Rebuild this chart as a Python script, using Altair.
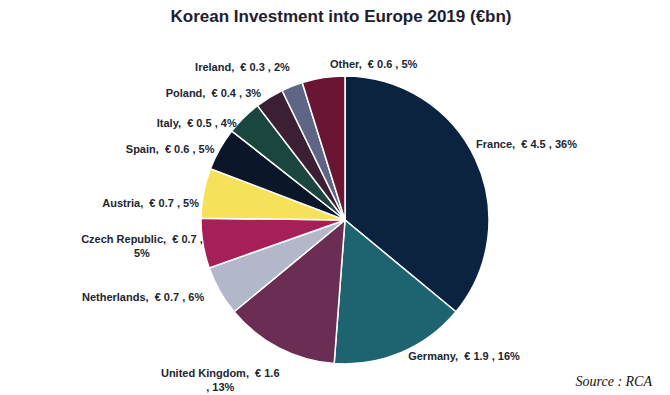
import math
import altair as alt
import pandas as pd

# ---- data ----
COUNTRIES = ["France", "Germany", "United Kingdom", "Netherlands", "Czech Republic",
             "Austria", "Spain", "Italy", "Poland", "Ireland", "Other"]
VALUES = [4.5, 1.9, 1.6, 0.7, 0.7, 0.7, 0.6, 0.5, 0.4, 0.3, 0.6]
SHARES = [36, 16, 13, 6, 5, 5, 5, 4, 3, 2, 5]
COLORS = ["#0c2340", "#1d6470", "#6b2d54", "#b3b7ca", "#a61f58", "#f6e25a",
          "#0b1628", "#1b4640", "#3d1f33", "#5e6585", "#6b1535"]

TITLE = "Korean Investment into Europe 2019 (€bn)"
SOURCE = "Source : RCA"

# ---- layout ----
CX, CY = 337, 184
PIE_R = 144
FONT = "Liberation Sans"
TEXT_COLOR = "#22252f"
# label placement: (angle nudge from slice middle in degrees, radius in px, alignment)
LABEL_PLACE = {
    "France": (-4.6, 151, "left"),
    "Germany": (-1.7, 151, "left"),
    "United Kingdom": (11.7, 198, "center"),
    "Netherlands": (0.5, 161, "right"),
    "Czech Republic": (3.8, 204, "center"),
    "Austria": (-4.4, 147, "right"),
    "Spain": (-1.4, 148, "right"),
    "Italy": (-3.7, 145, "right"),
    "Poland": (-2.1, 151, "right"),
    "Ireland": (1.7, 162, "right"),
    "Other": (3.1, 156, "left"),
}


def make_label(name, v, s):
    head = f"{name},\u00a0 € {v}"
    tail = f"{s}%"
    if name == "United Kingdom":
        return head + "\n, " + tail
    if name == "Czech Republic":
        return head + " ,\n" + tail
    return head + " , " + tail


total = sum(VALUES)
mids = []
run = 0.0
for v in VALUES:
    mids.append(run + v / 2)
    run += v

df = pd.DataFrame({
    "country": COUNTRIES,
    "value": VALUES,
    "share": SHARES,
    "idx": list(range(len(COUNTRIES))),
    "label": [make_label(c, v, s) for c, v, s in zip(COUNTRIES, VALUES, SHARES)],
})
df["lt"] = [m + LABEL_PLACE[c][0] / 360 * total for m, c in zip(mids, COUNTRIES)]
df["lr"] = [LABEL_PLACE[c][1] for c in COUNTRIES]
df["align"] = [LABEL_PLACE[c][2] for c in COUNTRIES]

theta_scale = alt.Scale(domain=[0, total], range=[0, 2 * math.pi])
base = alt.Chart(df)

arcs = base.mark_arc(radius=PIE_R, stroke="white", strokeWidth=1.5).encode(
    theta=alt.Theta("value:Q", stack=True, scale=theta_scale),
    color=alt.Color("country:N", scale=alt.Scale(domain=COUNTRIES, range=COLORS), legend=None),
    order=alt.Order("idx:Q"),
    x=alt.value(CX),
    y=alt.value(CY),
)


def label_layer(align):
    return base.transform_filter(alt.datum.align == align).mark_text(
        align=align, baseline="middle", font=FONT, fontSize=11,
        fontWeight="bold", color=TEXT_COLOR, lineBreak="\n", lineHeight=14,
    ).encode(
        theta=alt.Theta("lt:Q", stack=False, scale=theta_scale),
        radius=alt.Radius("lr:Q", scale=None),
        text="label:N",
        x=alt.value(CX),
        y=alt.value(CY),
    )


source = alt.Chart(pd.DataFrame({"text": [SOURCE]})).mark_text(
    align="right", baseline="middle", font="Liberation Serif", fontStyle="italic",
    fontSize=14, color="#111111",
).encode(text="text:N", x=alt.value(644), y=alt.value(346))

chart = alt.layer(
    arcs, label_layer("left"), label_layer("right"), label_layer("center"), source
).properties(
    width=654,
    height=350,
    padding=0,
    title=alt.TitleParams(TITLE, fontSize=17, font=FONT, fontWeight="bold",
                          color="#1c2030", anchor="middle", offset=10, dx=6),
).configure_view(stroke=None)

chart.save("out.html", embed_options={"renderer": "svg", "actions": False})
